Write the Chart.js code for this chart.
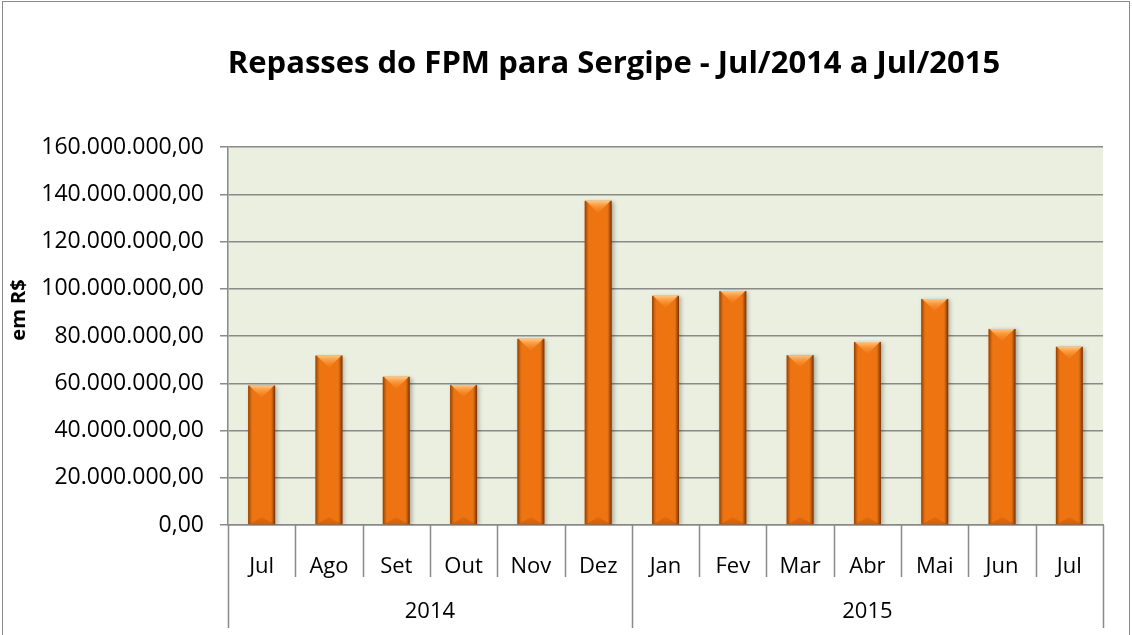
<!DOCTYPE html>
<html>
<head>
<meta charset="utf-8">
<script src="https://cdn.jsdelivr.net/npm/chart.js@4.4.1/dist/chart.umd.min.js"></script>
<style>
html, body { margin: 0; padding: 0; background: #fff; }
#wrap { position: relative; width: 1132px; height: 635px; }
#frame { position: absolute; left: 2px; top: 1px; width: 1126px; height: 640px; border: 1px solid #8a8a8a; border-bottom: none; pointer-events: none; }
</style>
</head>
<body>
<div id="wrap">
<canvas id="fpmChart" width="1132" height="635"></canvas>
<div id="frame"></div>
</div>
<script>
const chartTitle = 'Repasses do FPM para Sergipe - Jul/2014 a Jul/2015';
const yTitle = 'em R$';
const months = ['Jul', 'Ago', 'Set', 'Out', 'Nov', 'Dez', 'Jan', 'Fev', 'Mar', 'Abr', 'Mai', 'Jun', 'Jul'];
const years = ['2014', '2015'];
const monthsPerYear = [6, 7];
const repasses = [59000000, 71700000, 62700000, 59300000, 78800000, 137200000, 97000000, 99000000, 71900000, 77500000, 95700000, 83000000, 75400000];
const yMax = 160000000;
const yStep = 20000000;

const axisGray = '#8a8a8a';
const labelFont = "'Open Sans', sans-serif";

function formatBRL(v) {
const int = Math.round(v).toString().replace(/\B(?=(\d{3})+(?!\d))/g, '.');
return int + ',00';
}

// title, axis title, two-level category separators and year row
const excelDecor = {
id: 'excelDecor',
afterDraw(chart) {
const ctx = chart.ctx;
const xs = chart.scales.x;
const area = chart.chartArea;
const n = months.length;
ctx.save();

// title, shrunk to the width it has in the original
let size = 31;
ctx.font = `bold ${size}px ${labelFont}`;
while (ctx.measureText(chartTitle).width > 796 && size > 10) {
size -= 0.5;
ctx.font = `bold ${size}px ${labelFont}`;
}
ctx.fillStyle = '#000';
ctx.textAlign = 'center';
ctx.textBaseline = 'middle';
ctx.fillText(chartTitle, 614, 64);

// y axis title
ctx.save();
ctx.translate(19, 310);
ctx.rotate(-Math.PI / 2);
ctx.font = `bold 20px ${labelFont}`;
ctx.fillText(yTitle, 0, 0);
ctx.restore();

// separators
const edge = i => {
if (i === 0) return xs.left;
if (i === n) return xs.right;
return (xs.getPixelForValue(i - 1) + xs.getPixelForValue(i)) / 2;
};
const yearEdges = [0];
monthsPerYear.forEach(c => yearEdges.push(yearEdges[yearEdges.length - 1] + c));
ctx.strokeStyle = axisGray;
ctx.lineWidth = 1.5;
for (let i = 0; i <= n; i++) {
const x = Math.round(edge(i)) + 0.5;
const end = yearEdges.includes(i) ? area.bottom + 103 : area.bottom + 52;
ctx.beginPath();
ctx.moveTo(x, area.bottom);
ctx.lineTo(x, end);
ctx.stroke();
}

// year labels
ctx.font = `22px ${labelFont}`;
ctx.fillStyle = '#000';
years.forEach((yr, k) => {
const cx = (edge(yearEdges[k]) + edge(yearEdges[k + 1])) / 2;
ctx.fillText(yr, cx, area.bottom + 87);
});
ctx.restore();
}
};

// plot area fill
const plotBg = {
id: 'plotBg',
beforeDraw(chart) {
const a = chart.chartArea;
chart.ctx.save();
chart.ctx.fillStyle = '#EBEFDF';
chart.ctx.fillRect(a.left, a.top, a.right - a.left, a.bottom - a.top);
chart.ctx.restore();
}
};

// soft drop shadow + bevel look of the Excel bars
const barBevel = {
id: 'barBevel',
beforeDatasetDraw(chart) {
const ctx = chart.ctx;
ctx.save();
ctx.shadowColor = 'rgba(0,0,0,0.28)';
ctx.shadowBlur = 4;
ctx.shadowOffsetX = 2;
ctx.shadowOffsetY = 1;
},
afterDatasetDraw(chart) {
const ctx = chart.ctx;
ctx.restore();
const meta = chart.getDatasetMeta(0);
meta.data.forEach(bar => {
const { x, y, base, width } = bar.getProps(['x', 'y', 'base', 'width'], true);
const l = x - width / 2;
const r = x + width / 2;
ctx.save();
const side = ctx.createLinearGradient(l, 0, r, 0);
side.addColorStop(0, 'rgba(105,45,0,0.75)');
side.addColorStop(0.1, 'rgba(130,55,0,0.25)');
side.addColorStop(0.2, 'rgba(255,150,50,0)');
side.addColorStop(0.8, 'rgba(255,150,50,0)');
side.addColorStop(0.9, 'rgba(110,45,0,0.3)');
side.addColorStop(1, 'rgba(80,30,0,0.8)');
ctx.fillStyle = side;
ctx.fillRect(l, y, width, base - y);

const d = width * 0.45;
const top = ctx.createLinearGradient(0, y, 0, y + d);
top.addColorStop(0, '#FFC684');
top.addColorStop(0.3, '#FCA24A');
top.addColorStop(1, 'rgba(245,130,30,0.3)');
ctx.fillStyle = top;
ctx.beginPath();
ctx.moveTo(l + 1, y);
ctx.lineTo(r - 1, y);
ctx.lineTo(x, y + d);
ctx.closePath();
ctx.fill();

const bot = ctx.createLinearGradient(0, base, 0, base - d);
bot.addColorStop(0, 'rgba(150,60,0,0.35)');
bot.addColorStop(1, 'rgba(150,60,0,0)');
ctx.fillStyle = bot;
ctx.beginPath();
ctx.moveTo(l + 1, base);
ctx.lineTo(r - 1, base);
ctx.lineTo(x, base - d * 0.6);
ctx.closePath();
ctx.fill();
ctx.restore();
});
}
};

new Chart(document.getElementById('fpmChart'), {
type: 'bar',
data: {
labels: months,
datasets: [{
data: repasses,
backgroundColor: '#EE7412',
borderWidth: 0,
barPercentage: 0.8,
categoryPercentage: 0.5
}]
},
options: {
responsive: false,
animation: false,
events: [],
layout: { padding: { top: 147, right: 29, left: 0, bottom: 0 } },
plugins: {
legend: { display: false },
title: { display: false },
tooltip: { enabled: false }
},
scales: {
x: {
grid: { display: false, offset: true },
border: { display: true, color: axisGray, width: 1.5 },
ticks: {
color: '#000',
font: { family: labelFont, size: 22 },
padding: 21,
maxRotation: 0,
autoSkip: false
},
afterFit: s => { s.height = 110; }
},
y: {
min: 0,
max: yMax,
grid: { color: axisGray, lineWidth: 1.5, tickLength: 8, drawTicks: true },
border: { display: true, color: axisGray, width: 1.5 },
ticks: {
stepSize: yStep,
color: '#000',
padding: 16,
font: { family: labelFont, size: 23 },
callback: v => formatBRL(v)
},
afterFit: s => { s.width = 228; }
}
}
},
plugins: [plotBg, barBevel, excelDecor]
});
</script>
</body>
</html>
